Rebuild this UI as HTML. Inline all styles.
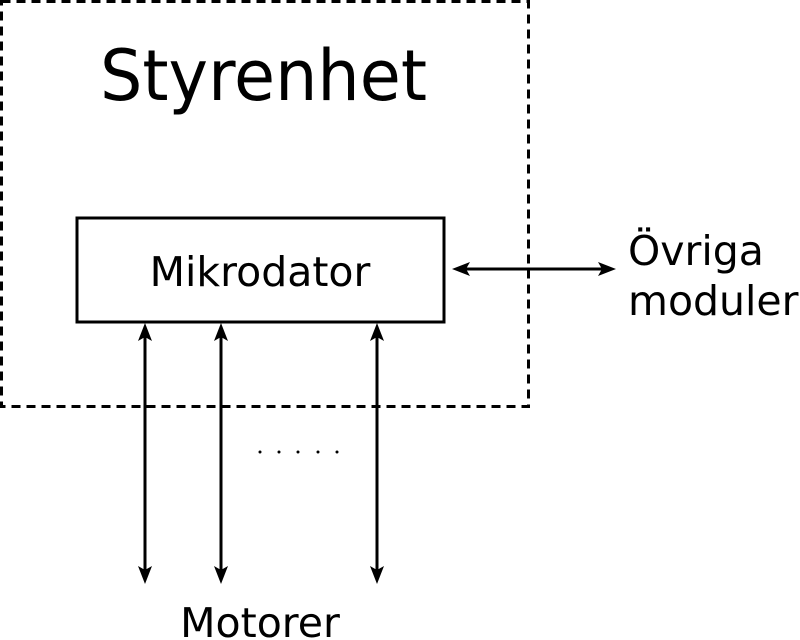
<!DOCTYPE html>
<html><head><meta charset="utf-8"><style>html,body{margin:0;padding:0;background:#fff}svg{display:block}</style></head>
<body>
<svg width="800" height="640" viewBox="0 0 800 640" xmlns="http://www.w3.org/2000/svg" font-family="'DejaVu Sans', sans-serif">
<rect x="1.5" y="1.5" width="527" height="405" fill="none" stroke="#000" stroke-width="3" stroke-dasharray="9,6"/>
<text x="100" y="100" font-size="70" textLength="327" lengthAdjust="spacingAndGlyphs">Styrenhet</text>
<rect x="77" y="218" width="367" height="104" fill="#fff" stroke="#000" stroke-width="3"/>
<text x="260" y="286" font-size="41" text-anchor="middle">Mikrodator</text>
<line x1="460" y1="269" x2="608" y2="269" stroke="#000" stroke-width="3"/>
<path d="M452,269 L470,262 L466,269 L470,276 Z M616,269 L598,262 L602,269 L598,276 Z" fill="#000"/>
<text x="628" y="265" font-size="41">Övriga</text>
<text x="628" y="315" font-size="41">moduler</text>
<g stroke="#000" stroke-width="3">
<line x1="145" y1="330" x2="145" y2="576"/>
<line x1="221" y1="330" x2="221" y2="576"/>
<line x1="377" y1="330" x2="377" y2="576"/>
</g>
<g fill="#000">
<path d="M145,323 L138,341 L145,337 L152,341 Z M145,584 L138,566 L145,570 L152,566 Z"/>
<path d="M221,323 L214,341 L221,337 L228,341 Z M221,584 L214,566 L221,570 L228,566 Z"/>
<path d="M377,323 L370,341 L377,337 L384,341 Z M377,584 L370,566 L377,570 L384,566 Z"/>
<circle cx="260" cy="452" r="1.5"/><circle cx="279" cy="452" r="1.5"/><circle cx="298" cy="452" r="1.5"/><circle cx="318" cy="452" r="1.5"/><circle cx="337" cy="452" r="1.5"/></g>
<text x="260" y="637" font-size="41" text-anchor="middle">Motorer</text>
</svg>
</body></html>
